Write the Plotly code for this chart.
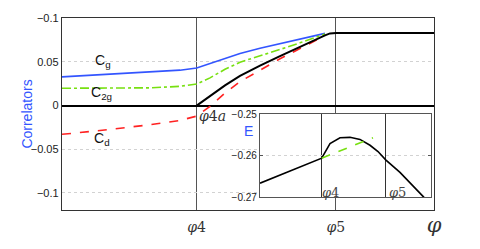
import plotly.graph_objects as go

PHI4 = 0.362
PHI5 = 0.736

# ---- main panel data ----
x_pre = [0.0, 0.1022, 0.2366, 0.3172, PHI4]
x_post = [PHI4, 0.3978, 0.4382, 0.4785, 0.5323, 0.5860, 0.6398, 0.6801, 0.7070]

cg_pre = [0.0328, 0.0355, 0.0387, 0.0405, 0.0429]
cg_post = [0.0429, 0.0482, 0.0544, 0.0596, 0.0655, 0.0708, 0.0761, 0.0799, 0.0826]

c2g_pre = [0.0198, 0.0198, 0.0203, 0.0220, 0.0247]
c2g_post = [0.0247, 0.0317, 0.0415, 0.0496, 0.0566, 0.0642, 0.0718, 0.0777, 0.0820]

cd_pre = [-0.0329, -0.0286, -0.0219, -0.0170, -0.0121]
cd_post = [-0.0121, -0.0008, 0.0144, 0.0274, 0.0404, 0.0535, 0.0653, 0.0739, 0.0799]

x_black = [PHI4, 0.3978, 0.4382, 0.4785, 0.5323, 0.5860, 0.6398, 0.6801, 0.7070, 0.7204, 0.7366, 1.0]
black = [0.0, 0.0111, 0.0231, 0.0339, 0.0458, 0.0566, 0.0674, 0.0750, 0.0804, 0.0826, 0.0829, 0.0829]

y_ticks = [0.1, 0.05, 0.0, -0.05, -0.1]
y_ticktext = ["\u22120.1", "0.05", "0", "\u22120.05", "\u22120.1"]

# ---- inset data ----
xe = [0.0, 0.3608, 0.4094, 0.4678, 0.5263, 0.5848, 0.6433, 0.6901, 0.7351, 0.8187, 0.9591]
energy = [-0.2666, -0.2606, -0.2571, -0.2557, -0.2556, -0.2561, -0.2575, -0.2590, -0.2610, -0.2640, -0.2700]
xe_g = [0.3608, 0.6608]
energy_g = [-0.2606, -0.2557]
ye_ticks = [-0.25, -0.26, -0.27]
ye_ticktext = ["\u22120.25", "\u22120.26", "\u22120.27"]

BLUE = "#3355ff"
GREEN = "#77e010"
RED = "#ff2222"
SANS = "Liberation Sans, Arial, sans-serif"
SERIF = "DejaVu Serif, serif"

fig = go.Figure()

fig.add_trace(go.Scatter(x=x_pre + x_post[1:], y=cg_pre + cg_post[1:], mode="lines",
                         line=dict(color=BLUE, width=1.6), xaxis="x", yaxis="y"))
fig.add_trace(go.Scatter(x=x_pre + x_post[1:], y=c2g_pre + c2g_post[1:], mode="lines",
                         line=dict(color=GREEN, width=1.6, dash="dashdot"), xaxis="x", yaxis="y"))
fig.add_trace(go.Scatter(x=x_pre + x_post[1:], y=cd_pre + cd_post[1:], mode="lines",
                         line=dict(color=RED, width=1.6, dash="dash"), xaxis="x", yaxis="y"))
fig.add_trace(go.Scatter(x=x_black, y=black, mode="lines",
                         line=dict(color="black", width=2), xaxis="x", yaxis="y"))

fig.add_trace(go.Scatter(x=xe, y=energy, mode="lines",
                         line=dict(color="black", width=1.6), xaxis="x2", yaxis="y2"))
fig.add_trace(go.Scatter(x=xe_g, y=energy_g, mode="lines",
                         line=dict(color=GREEN, width=1.6, dash="dash"), xaxis="x2", yaxis="y2"))

phi = lambda s: "<i>\u03c6</i>" + s

fig.update_layout(
    width=480, height=249,
    margin=dict(l=62, r=46, t=18, b=29),
    paper_bgcolor="white", plot_bgcolor="white",
    showlegend=False,
    xaxis=dict(range=[0, 1], domain=[0, 1], tickvals=[PHI4, PHI5, 1.0],
               ticktext=[phi("4"), phi("5"), "<span style='font-size:21px'><i>\u03c6</i></span>"],
               tickfont=dict(family=SERIF, size=14, color="#333"), ticklabelstandoff=4,
               showgrid=True, gridcolor="#555", gridwidth=1.4,
               showline=True, linecolor="#333", linewidth=1.4, mirror=True,
               ticks="", zeroline=False),
    yaxis=dict(range=[-0.1195, 0.1002], domain=[0, 1], tickvals=y_ticks, ticktext=y_ticktext,
               tickfont=dict(family=SANS, size=11, color="#222"),
               showgrid=True, gridcolor="#d2d2d2", gridwidth=1, griddash="dot",
               showline=True, linecolor="#333", linewidth=1.4, mirror=True,
               zeroline=True, zerolinecolor="black", zerolinewidth=2, ticks=""),
    xaxis2=dict(range=[0, 1], domain=[0.5323, 0.9919], anchor="y2",
                tickvals=[PHI4, PHI5], showticklabels=False,
                showgrid=True, gridcolor="#333", gridwidth=1.2,
                showline=True, linecolor="#555", linewidth=1.2, mirror=True,
                ticks="", zeroline=False),
    yaxis2=dict(range=[-0.27, -0.25], domain=[0.0658, 0.5], anchor="x2",
                tickvals=ye_ticks, ticktext=ye_ticktext,
                tickfont=dict(family=SANS, size=10, color="#222"),
                showgrid=True, gridcolor="#d2d2d2", gridwidth=1, griddash="dot",
                showline=True, linecolor="#555", linewidth=1.2, mirror="ticks",
                ticks="inside", ticklen=3, tickcolor="#555", zeroline=False),
)

annos = [
    dict(text="Correlators", x=-0.122, y=0.5, xref="paper", yref="paper", textangle=-90,
         font=dict(family=SANS, size=14, color=BLUE), showarrow=False),
    dict(text="C<sub>g</sub>", x=0.082, y=0.051, xref="x", yref="y", xanchor="left",
         font=dict(family=SANS, size=14, color="#111"), showarrow=False),
    dict(text="C<sub>2g</sub>", x=0.072, y=0.0145, xref="x", yref="y", xanchor="left",
         font=dict(family=SANS, size=14, color="#111"), showarrow=False),
    dict(text="C<sub>d</sub>", x=0.080, y=-0.038, xref="x", yref="y", xanchor="left",
         font=dict(family=SANS, size=14, color="#111"), showarrow=False),
    dict(text=phi("4<i>a</i>"), x=PHI4, y=-0.0115, xref="x", yref="y", xanchor="left",
         font=dict(family=SERIF, size=14, color="#333"), showarrow=False),
    dict(text="E", x=0.5, y=0.41, xref="paper", yref="paper",
         font=dict(family=SANS, size=14, color=BLUE), showarrow=False),
    dict(text=phi("4"), x=PHI4 - 0.01, y=-0.2688, xref="x2", yref="y2", xanchor="left",
         font=dict(family=SERIF, size=13, color="#444"), showarrow=False),
    dict(text=phi("5"), x=PHI5 + 0.005, y=-0.2688, xref="x2", yref="y2", xanchor="left",
         font=dict(family=SERIF, size=13, color="#444"), showarrow=False),
]
fig.update_layout(annotations=annos)

fig.write_html("out.html", config={"displayModeBar": False},
               post_script="document.body.style.margin='0';")
